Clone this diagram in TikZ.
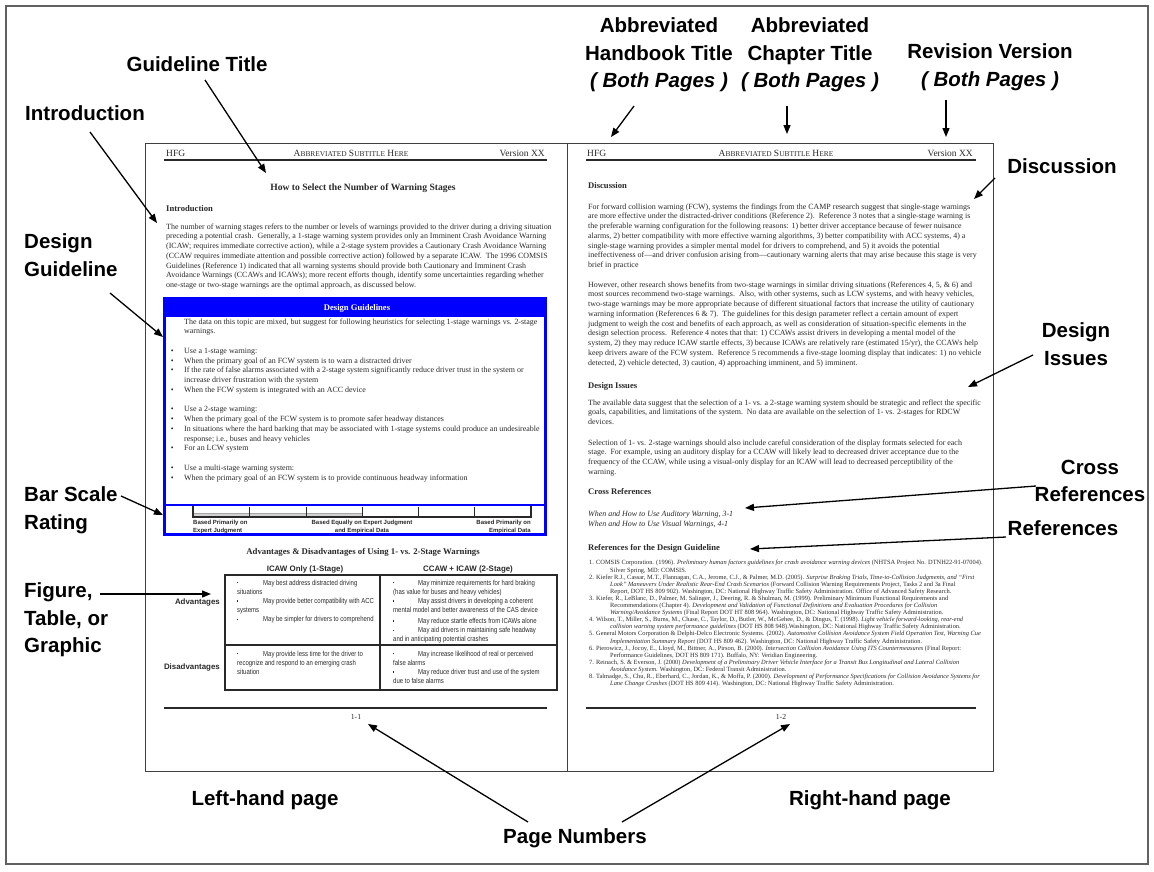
\documentclass[tikz,border=0pt]{standalone}
\usepackage{fontspec}
\setmainfont{Liberation Serif}
\newfontfamily\labelfont{Liberation Sans}
\newfontfamily\narrowfont[FakeStretch=0.82]{Liberation Sans}
\usetikzlibrary{arrows.meta}

\definecolor{ink}{gray}{0.16}
\definecolor{guideblue}{RGB}{0,0,255}
\definecolor{framegray}{gray}{0.38}
\definecolor{pagegray}{gray}{0.25}

% fake small caps for the running header
\newcommand{\fsc}[2]{{\fontsize{9.5}{11}\selectfont #1\fontsize{7.4}{11}\selectfont #2}}
% round bullet hanging to the left of a guideline item
\newcommand{\gbul}{\llap{\textbullet\hspace{10.5pt}}}
% small square bullet used in the table cells
\newcommand{\sq}{\makebox[0pt][l]{\raisebox{1.8pt}{\rule{1.2pt}{1.2pt}}}}

\begin{document}
\begin{tikzpicture}[x=1pt,y=-1pt,
  lbl/.style={font=\labelfont\bfseries\fontsize{20.5}{27.5}\selectfont, align=center, inner sep=0pt},
  callout/.style={-{Triangle[length=9pt,width=7pt]}, line width=1.3pt},
  pageedge/.style={draw=pagegray, line width=0.9pt},
  hdr/.style={font=\fontsize{9.5}{11}\selectfont, text=ink, inner sep=0pt},
  rulebar/.style={line width=2pt, ink},
  body/.style={font=\fontsize{7.95}{9.75}\selectfont, text=ink, align=left, anchor=north west, inner sep=0pt},
  head/.style={font=\bfseries\fontsize{8.6}{10}\selectfont, text=ink, anchor=west, inner sep=0pt},
  cell/.style={font=\narrowfont\fontsize{7.3}{9.2}\selectfont, text=ink, align=left, anchor=north west, inner sep=0pt},
  colhead/.style={font=\labelfont\bfseries\fontsize{7.9}{9}\selectfont, text=ink, inner sep=0pt},
  scalelbl/.style={font=\labelfont\bfseries\fontsize{6}{8}\selectfont, text=ink, inner sep=0pt},
  refs/.style={font=\fontsize{6.4}{7.1}\selectfont, text=ink, align=left, anchor=north west, inner sep=0pt}
]
\useasboundingbox (0,0) rectangle (1154,871);
\draw[framegray, line width=1.2pt] (6,6) rectangle (1148,864);

% ---------------- the two pages ----------------
\draw[pageedge] (145,143) rectangle (567,771);
\draw[pageedge] (567,143) rectangle (993,771);

% running headers
\node[hdr, anchor=west] (hfgL) at (166,153) {HFG};
\node[hdr] (subL) at (351,153) {\fsc{A}{BBREVIATED} \fsc{S}{UBTITLE} \fsc{H}{ERE}};
\node[hdr, anchor=east] (verL) at (545,153) {Version XX};
\draw[rulebar] (164,160) -- (547,160);
\node[hdr, anchor=west] (hfgR) at (587,153) {HFG};
\node[hdr] (subR) at (776,153) {\fsc{A}{BBREVIATED} \fsc{S}{UBTITLE} \fsc{H}{ERE}};
\node[hdr, anchor=east] (verR) at (973,153) {Version XX};
\draw[rulebar] (586,160) -- (976,160);

% ---------------- left-hand page ----------------
\node[font=\bfseries\fontsize{9.6}{11}\selectfont, text=ink, inner sep=0pt] (title) at (363,188) {How to Select the Number of Warning Stages};
\node[head] (introHead) at (166,209) {Introduction};
\node[body] (intro) at (166,223.4) {The number of warning stages refers to the number or levels of warnings provided to the driver during a driving situation\\
preceding a potential crash.\ \ Generally, a 1-stage warning system provides only an Imminent Crash Avoidance Warning\\
(ICAW; requires immediate corrective action), while a 2-stage system provides a Cautionary Crash Avoidance Warning\\
(CCAW requires immediate attention and possible corrective action) followed by a separate ICAW.\ \ The 1996 COMSIS\\
Guidelines (Reference 1) indicated that all warning systems should provide both Cautionary and Imminent Crash\\
Avoidance Warnings (CCAWs and ICAWs); more recent efforts though, identify some uncertainties regarding whether\\
one-stage or two-stage warnings are the optimal approach, as discussed below.};

% design guidelines box
\fill[guideblue] (164,298) rectangle (545,317);
\node[font=\bfseries\fontsize{8.6}{10}\selectfont, text=white, inner sep=0pt] (dgHead) at (357,308) {Design Guidelines};
\node[body] (dgText) at (184,318.4) {The data on this topic are mixed, but suggest for following heuristics for selecting 1-stage warnings vs. 2-stage\\
warnings.\\[9.75pt]
\gbul Use a 1-stage warning:\\
\gbul When the primary goal of an FCW system is to warn a distracted driver\\
\gbul If the rate of false alarms associated with a 2-stage system significantly reduce driver trust in the system or\\
increase driver frustration with the system\\
\gbul When the FCW system is integrated with an ACC device\\[9.75pt]
\gbul Use a 2-stage warning:\\
\gbul When the primary goal of the FCW system is to promote safer headway distances\\
\gbul In situations where the hard barking that may be associated with 1-stage systems could produce an undesireable\\
response; i.e., buses and heavy vehicles\\
\gbul For an LCW system\\[9.75pt]
\gbul Use a multi-stage warning system:\\
\gbul When the primary goal of an FCW system is to provide continuous headway information};
\draw[guideblue, line width=2.5pt] (164,505) -- (545,505);
\draw[guideblue, line width=3pt] (164,298) rectangle (545,534);

% bar scale rating
\fill[gray!35, draw=gray!70, line width=0.5pt] (193,513) rectangle (362,517);
\draw[ink, line width=2pt] (193,517) -- (531,517);
\foreach \tx in {249,306,362,418,474} \draw[ink, line width=0.8pt] (\tx,507) -- (\tx,517);
\draw[ink, line width=2pt] (193,506) -- (193,518);
\draw[ink, line width=2pt] (531,506) -- (531,518);
\node[scalelbl, anchor=north west, align=left] (scaleA) at (193,519.5) {Based Primarily on\\Expert Judgment};
\node[scalelbl, anchor=north, align=center] (scaleB) at (362,519.5) {Based Equally on Expert Judgment\\and Empirical Data};
\node[scalelbl, anchor=north east, align=right] (scaleC) at (531,519.5) {Based Primarily on\\Empirical Data};

% advantages and disadvantages table
\node[font=\bfseries\fontsize{8.75}{10}\selectfont, text=ink, inner sep=0pt] (advTitle) at (363,552) {Advantages \& Disadvantages of Using 1- vs. 2-Stage Warnings};
\node[colhead] (colA) at (305,569) {ICAW Only (1-Stage)};
\node[colhead] (colB) at (468,569) {CCAW + ICAW (2-Stage)};
\draw[ink, line width=2pt] (225,575) rectangle (557,690);
\draw[ink, line width=2pt] (380,575) -- (380,690);
\draw[ink, line width=2pt] (225,645) -- (557,645);
\node[colhead, anchor=east] (rowAdv) at (220,602) {Advantages};
\node[colhead, anchor=east] (rowDis) at (220,667) {Disadvantages};
\node[cell] (cellA1) at (237,579.5) {\sq\hspace*{26pt}May best address distracted driving\\
situations\\
\sq\hspace*{26pt}May provide better compatibility with ACC\\
systems\\
\sq\hspace*{26pt}May be simpler for drivers to comprehend};
\node[cell] (cellB1) at (393,579.5) {\sq\hspace*{25pt}May minimize requirements for hard braking\\
(has value for buses and heavy vehicles)\\
\sq\hspace*{25pt}May assist drivers in developing a coherent\\
mental model and better awareness of the CAS device\\[1.5pt]
\sq\hspace*{25pt}May reduce startle effects from ICAWs alone\\
\sq\hspace*{25pt}May aid drivers in maintaining safe headway\\
and in anticipating potential crashes};
\node[cell] (cellA2) at (237,650.5) {\sq\hspace*{26pt}May provide less time for the driver to\\
recognize and respond to an emerging crash\\
situation};
\node[cell] (cellB2) at (393,650.5) {\sq\hspace*{25pt}May increase likelihood of real or perceived\\
false alarms\\
\sq\hspace*{25pt}May reduce driver trust and use of the system\\
due to false alarms};

% footer
\draw[rulebar] (164,708) -- (547,708);
\node[font=\fontsize{7.7}{9}\selectfont, text=ink, inner sep=0pt] (pnL) at (356,717) {1-1};

% ---------------- right-hand page ----------------
\node[head] (discHead) at (588,186) {Discussion};
\node[body] (discA) at (588,203.4) {For forward collision warning (FCW), systems the findings from the CAMP research suggest that single-stage warnings\\
are more effective under the distracted-driver conditions (Reference 2).\ \ Reference 3 notes that a single-stage warning is\\
the preferable warning configuration for the following reasons: 1) better driver acceptance because of fewer nuisance\\
alarms, 2) better compatibility with more effective warning algorithms, 3) better compatibility with ACC systems, 4) a\\
single-stage warning provides a simpler mental model for drivers to comprehend, and 5) it avoids the potential\\
ineffectiveness of—and driver confusion arising from—cautionary warning alerts that may arise because this stage is very\\
brief in practice};
\node[body] (discB) at (588,281.4) {However, other research shows benefits from two-stage warnings in similar driving situations (References 4, 5, \& 6) and\\
most sources recommend two-stage warnings.\ \ Also, with other systems, such as LCW systems, and with heavy vehicles,\\
two-stage warnings may be more appropriate because of different situational factors that increase the utility of cautionary\\
warning information (References 6 \& 7).\ \ The guidelines for this design parameter reflect a certain amount of expert\\
judgment to weigh the cost and benefits of each approach, as well as consideration of situation-specific elements in the\\
design selection process.\ \ Reference 4 notes that that: 1) CCAWs assist drivers in developing a mental model of the\\
system, 2) they may reduce ICAW startle effects, 3) because ICAWs are relatively rare (estimated 15/yr), the CCAWs help\\
keep drivers aware of the FCW system.\ \ Reference 5 recommends a five-stage looming display that indicates: 1) no vehicle\\
detected, 2) vehicle detected, 3) caution, 4) approaching imminent, and 5) imminent.};

\node[head] (issHead) at (588,386) {Design Issues};
\node[body] (issA) at (588,399.4) {The available data suggest that the selection of a 1- vs. a 2-stage warning system should be strategic and reflect the specific\\
goals, capabilities, and limitations of the system.\ \ No data are available on the selection of 1- vs. 2-stages for RDCW\\
devices.};
\node[body] (issB) at (588,439.4) {Selection of 1- vs. 2-stage warnings should also include careful consideration of the display formats selected for each\\
stage.\ \ For example, using an auditory display for a CCAW will likely lead to decreased driver acceptance due to the\\
frequency of the CCAW, while using a visual-only display for an ICAW will lead to decreased perceptibility of the\\
warning.};

\node[head] (crossHead) at (588,492) {Cross References};
\node[body, font=\itshape\fontsize{7.95}{10}\selectfont] (crossText) at (588,510.4) {When and How to Use Auditory Warning, 3-1\\
When and How to Use Visual Warnings, 4-1};

\node[head] (refHead) at (588,548) {References for the Design Guideline};
\node[refs] (refText) at (589,560.2) {1. COMSIS Corporation. (1996). \textit{Preliminary human factors guidelines for crash avoidance warning devices} (NHTSA Project No. DTNH22-91-07004).\\
\hspace*{21pt}Silver Spring, MD: COMSIS.\\
2. Kiefer R.J., Cassar, M.T., Flannagan, C.A., Jerome, C.J., \& Palmer, M.D. (2005). \textit{Surprise Braking Trials, Time-to-Collision Judgments, and “First}\\
\hspace*{21pt}\textit{Look” Maneuvers Under Realistic Rear-End Crash Scenarios} (Forward Collision Warning Requirements Project, Tasks 2 and 3a Final\\
\hspace*{21pt}Report, DOT HS 809 902). Washington, DC: National Highway Traffic Safety Administration. Office of Advanced Safety Research.\\
3. Kiefer, R., LeBlanc, D., Palmer, M. Salinger, J., Deering, R. \& Shulman, M. (1999). Preliminary Minimum Functional Requirements and\\
\hspace*{21pt}Recommendations (Chapter 4). \textit{Development and Validation of Functional Definitions and Evaluation Procedures for Collision}\\
\hspace*{21pt}\textit{Warning/Avoidance Systems} (Final Report DOT HT 808 964). Washington, DC: National Highway Traffic Safety Administration.\\
4. Wilson, T., Miller, S., Burns, M., Chase, C., Taylor, D., Butler, W., McGehee, D., \& Dingus, T. (1998). \textit{Light vehicle forward-looking, rear-end}\\
\hspace*{21pt}\textit{collision warning system performance guidelines} (DOT HS 808 948).Washington, DC: National Highway Traffic Safety Administration.\\
5. General Motors Corporation \& Delphi-Delco Electronic Systems. (2002). \textit{Automotive Collision Avoidance System Field Operation Test, Warning Cue}\\
\hspace*{21pt}\textit{Implementation Summary Report} (DOT HS 809 462). Washington, DC: National Highway Traffic Safety Administration.\\
6. Pierowicz, J., Jocoy, E., Lloyd, M., Bittner, A., Pirson, B. (2000). \textit{Intersection Collision Avoidance Using ITS Countermeasures} (Final Report:\\
\hspace*{21pt}Performance Guidelines, DOT HS 809 171). Buffalo, NY: Veridian Engineering.\\
7. Reinach, S. \& Everson, J. (2000) \textit{Development of a Preliminary Driver Vehicle Interface for a Transit Bus Longitudinal and Lateral Collision}\\
\hspace*{21pt}\textit{Avoidance System}. Washington, DC: Federal Transit Administration.\\
8. Talmadge, S., Chu, R., Eberhard, C., Jordan, K., \& Moffa, P. (2000). \textit{Development of Performance Specifications for Collision Avoidance Systems for}\\
\hspace*{21pt}\textit{Lane Change Crashes} (DOT HS 809 414). Washington, DC: National Highway Traffic Safety Administration.};

\draw[rulebar] (586,708) -- (976,708);
\node[font=\fontsize{7.7}{9}\selectfont, text=ink, inner sep=0pt] (pnR) at (781,717) {1-2};

% ---------------- callout labels ----------------
\node[lbl] (lGuide) at (197,64) {Guideline Title};
\node[lbl] (lIntro) at (85,113) {Introduction};
\node[lbl, anchor=west, align=left] (lDesign) at (24,255) {Design\\Guideline};
\node[lbl, anchor=west, align=left] (lBar) at (24,510) {Bar Scale\\Rating};
\node[lbl, anchor=west, align=left] (lFig) at (24,620) {Figure,\\Table, or\\Graphic};
\node[lbl] (lHand) at (659,55) {Abbreviated\\Handbook Title\\{\itshape ( Both Pages )}};
\node[lbl] (lChap) at (810,55) {Abbreviated\\Chapter Title\\{\itshape ( Both Pages )}};
\node[lbl] (lRev) at (990,67) {Revision Version\\{\itshape ( Both Pages )}};
\node[lbl] (lDisc) at (1062,166) {Discussion};
\node[lbl] (lIssues) at (1076,344) {Design\\Issues};
\node[lbl] (lCross) at (1090,481) {Cross\\References};
\node[lbl] (lRefs) at (1063,528) {References};
\node[lbl] (lLeft) at (265,800) {Left-hand page};
\node[lbl] (lRight) at (870,800) {Right-hand page};
\node[lbl] (lPages) at (575,838) {Page Numbers};

% arrow end points
\coordinate (aGuideS) at (205,80);   \coordinate (aGuideT) at (266,173);
\coordinate (aIntroS) at (90,132);   \coordinate (aIntroT) at (157,223);
\coordinate (aDesS) at (110,293);    \coordinate (aDesT) at (163,337);
\coordinate (aBarS) at (121,496);    \coordinate (aBarT) at (163,515);
\coordinate (aFigS) at (100,594);    \coordinate (aFigT) at (211,594);
\coordinate (aHandS) at (634,106);   \coordinate (aHandT) at (611,137);
\coordinate (aChapS) at (787,106);   \coordinate (aChapT) at (787,134);
\coordinate (aRevS) at (946,100);    \coordinate (aRevT) at (946,137);
\coordinate (aDiscS) at (995,178);   \coordinate (aDiscT) at (974,199);
\coordinate (aIssS) at (1033,355);   \coordinate (aIssT) at (968,387);
\coordinate (aCrossS) at (1036,486); \coordinate (aCrossT) at (745,508);
\coordinate (aRefsS) at (1006,537);  \coordinate (aRefsT) at (750,549);
\coordinate (aPnLS) at (528,822);    \coordinate (aPnLT) at (368,724);
\coordinate (aPnRS) at (622,822);    \coordinate (aPnRT) at (790,724);

\draw[callout] (aGuideS) -- (aGuideT);
\draw[callout] (aIntroS) -- (aIntroT);
\draw[callout] (aDesS) -- (aDesT);
\draw[callout] (aBarS) -- (aBarT);
\draw[callout] (aFigS) -- (aFigT);
\draw[callout] (aHandS) -- (aHandT);
\draw[callout] (aChapS) -- (aChapT);
\draw[callout] (aRevS) -- (aRevT);
\draw[callout] (aDiscS) -- (aDiscT);
\draw[callout] (aIssS) -- (aIssT);
\draw[callout] (aCrossS) -- (aCrossT);
\draw[callout] (aRefsS) -- (aRefsT);
\draw[callout] (aPnLS) -- (aPnLT);
\draw[callout] (aPnRS) -- (aPnRT);
\end{tikzpicture}
\end{document}
